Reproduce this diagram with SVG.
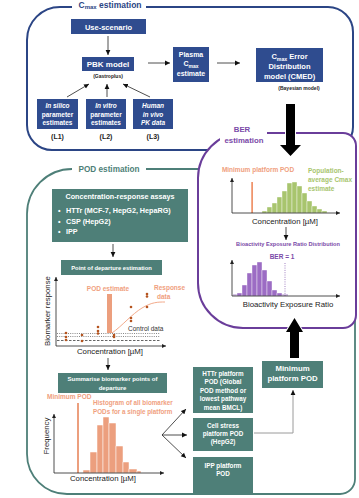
<svg xmlns="http://www.w3.org/2000/svg" width="359" height="498" viewBox="0 0 359 498">
<style>
text{font-family:"Liberation Sans",Arial,sans-serif}
.bt{fill:#fff;font-weight:bold;text-anchor:middle}
.blue{fill:#2f4c8f}
.teal{fill:#4e7f78}
.ax{stroke:#222;stroke-width:0.8;fill:none}
.axl{fill:#222;font-size:7.8px;text-anchor:middle}
.or{fill:#f0a07e;font-weight:bold}
.conn{stroke:#222;stroke-width:0.8;fill:none;marker-end:url(#ah)}
.gconn{stroke:#9a9a9a;stroke-width:1;fill:none;marker-end:url(#ah)}
.dk{fill:#222;font-weight:bold;text-anchor:middle}
.pt{fill:#b5541f}
</style>
<defs>
<marker id="ah" markerUnits="userSpaceOnUse" markerWidth="6" markerHeight="6" refX="5" refY="3" orient="auto"><path d="M0,0.6 L5,3 L0,5.4 Z" fill="#111"/></marker>
<marker id="axh" markerUnits="userSpaceOnUse" markerWidth="5" markerHeight="5" refX="4" refY="2.5" orient="auto"><path d="M0,0.5 L4,2.5 L0,4.5 Z" fill="#222"/></marker>
</defs>

<!-- section frames -->
<g id="cmax-frame">
<path d="M72,7 H60 A33 33 0 0 0 27,40 V125 A25 25 0 0 0 52,150 H330 A23 23 0 0 0 353,127 V32 A25 25 0 0 0 328,7 H146" fill="none" stroke="#2b4585" stroke-width="2"/>
<text x="110" y="7.5" text-anchor="middle" font-size="8.5" font-weight="bold" fill="#2b4585">C<tspan font-size="6" dy="1.8">max</tspan><tspan dy="-1.8"> estimation</tspan></text>
</g>
<g id="pod-frame">
<path d="M72,169 A45 45 0 0 0 27,214 V454 A40 40 0 0 0 67,494 H340 A15 15 0 0 0 355,479 V184 A15 15 0 0 0 340,169 H146" fill="none" stroke="#4e7f78" stroke-width="1.8"/>
<text x="109" y="172" text-anchor="middle" font-size="8.2" font-weight="bold" fill="#4e7f78">POD estimation</text>
</g>
<g id="ber-frame">
<path d="M243,133 H343 A13 13 0 0 1 356,146 V315 A13 13 0 0 1 343,328 H243 A45 45 0 0 1 198,283 V178 A45 45 0 0 1 243,133 Z" fill="#fff" stroke="#6a3d9a" stroke-width="2"/>
<rect x="220" y="119" width="47" height="27" fill="#fff"/>
<text x="242" y="132" text-anchor="middle" font-size="7.8" font-weight="bold" fill="#7a4aa8">BER</text>
<text x="244" y="143" text-anchor="middle" font-size="7.8" font-weight="bold" fill="#7a4aa8">estimation</text>
</g>

<!-- Cmax nodes -->
<g id="use-scenario"><rect x="71" y="19" width="75" height="15" class="blue"/><text x="108.5" y="29.5" class="bt" font-size="7.5">Use-scenario</text></g>
<g id="pbk"><rect x="82" y="57" width="52" height="14" class="blue"/><text x="108" y="67" class="bt" font-size="8">PBK model</text><text x="108" y="78" class="dk" font-size="5">(Gastroplus)</text></g>
<g id="plasma"><rect x="173" y="47" width="36" height="35" class="blue"/>
<text class="bt" font-size="7"><tspan x="191" y="57">Plasma</tspan><tspan x="191" y="66">C<tspan font-size="5" dy="1.5">max</tspan></tspan><tspan x="191" y="76">estimate</tspan></text></g>
<g id="cmed"><rect x="256" y="48" width="67" height="34" class="blue"/>
<text class="bt" font-size="7.5"><tspan x="289.5" y="59">C<tspan font-size="5.2" dy="1.5">max</tspan><tspan dy="-1.5"> Error</tspan></tspan><tspan x="289.5" y="69">Distribution</tspan><tspan x="289.5" y="79">model (CMED)</tspan></text>
<text x="299" y="90" class="dk" font-size="5">(Bayesian model)</text></g>
<g id="l1"><rect x="37" y="99" width="41" height="30" class="blue"/>
<text class="bt" font-size="6.5"><tspan x="57.5" y="108" font-style="italic">In silico</tspan><tspan x="57.5" y="116.5">parameter</tspan><tspan x="57.5" y="125">estimates</tspan></text>
<text x="57.5" y="139" class="dk" font-size="7">(L1)</text></g>
<g id="l2"><rect x="86" y="99" width="40" height="30" class="blue"/>
<text class="bt" font-size="6.5"><tspan x="106" y="108" font-style="italic">In vitro</tspan><tspan x="106" y="116.5">parameter</tspan><tspan x="106" y="125">estimates</tspan></text>
<text x="106" y="139" class="dk" font-size="7">(L2)</text></g>
<g id="l3"><rect x="133" y="99" width="40" height="30" class="blue"/>
<text class="bt" font-size="6.5" font-style="italic"><tspan x="153" y="108">Human</tspan><tspan x="153" y="116.5">in vivo</tspan><tspan x="153" y="125">PK data</tspan></text>
<text x="153" y="139" class="dk" font-size="7">(L3)</text></g>

<!-- BER charts -->
<g id="ber-chart1">
<text x="258" y="172" text-anchor="middle" font-size="6.5" class="or">Minimum platform POD</text>
<text font-size="6.5" font-weight="bold" fill="#a8c56e"><tspan x="308" y="173">Population-</tspan><tspan x="308" y="182">average Cmax</tspan><tspan x="308" y="191">estimate</tspan></text>
<rect x="251.3" y="182" width="1.6" height="31" fill="#ee8a5e"/>
<g fill="#a8c56e" stroke="#fff" stroke-width="0.4">
<rect x="262" y="211" width="5" height="2"/><rect x="267" y="207" width="5" height="6"/><rect x="272" y="203" width="5" height="10"/><rect x="277" y="197" width="5" height="16"/><rect x="282" y="191" width="5" height="22"/><rect x="287" y="183" width="5" height="30"/><rect x="292" y="182" width="5" height="31"/><rect x="297" y="186" width="5" height="27"/><rect x="302" y="193" width="5" height="20"/><rect x="307" y="201" width="5" height="12"/><rect x="312" y="206" width="5" height="7"/><rect x="317" y="209" width="5" height="4"/><rect x="322" y="211" width="5" height="2"/>
</g>
<path d="M232,213 V178" class="ax" marker-end="url(#axh)"/>
<path d="M232,213 H340" class="ax" marker-end="url(#axh)"/>
<text x="285" y="224" class="axl">Concentration [µM]</text>
</g>
<g id="ber-chart2">
<text x="288" y="246" text-anchor="middle" font-size="5.6" font-weight="bold" fill="#7a4aa8">Bioactivity Exposure Ratio Distribution</text>
<text x="282" y="259" text-anchor="middle" font-size="6.5" font-weight="bold" fill="#7a4aa8">BER = 1</text>
<rect x="233" y="294" width="55" height="2" fill="#d6c4e6"/>
<g fill="#9c6cc4" stroke="#fff" stroke-width="0.4">
<rect x="237" y="293" width="5" height="3"/><rect x="242" y="285" width="5" height="11"/><rect x="247" y="273" width="5" height="23"/><rect x="252" y="265" width="5" height="31"/><rect x="257" y="262" width="5" height="34"/><rect x="262" y="270" width="5" height="26"/><rect x="267" y="281" width="5" height="15"/><rect x="272" y="290" width="5" height="6"/><rect x="277" y="293" width="5" height="3"/>
</g>
<path d="M285,263 V296" stroke="#7a4aa8" stroke-width="0.7" stroke-dasharray="1,1.3"/>
<path d="M232,296 V260" class="ax" marker-end="url(#axh)"/>
<path d="M232,296 H340" class="ax" marker-end="url(#axh)"/>
<text x="288" y="307" class="axl" font-size="7.5">Bioactivity Exposure Ratio</text>
</g>

<!-- POD nodes -->
<g id="cr-assays"><rect x="52" y="189" width="136" height="53" class="teal"/>
<text x="120" y="199" class="bt" font-size="7.2">Concentration-response assays</text>
<text fill="#fff" font-weight="bold" font-size="7.2"><tspan x="58" y="213">•</tspan><tspan x="66" y="213">HTTr (MCF-7, HepG2, HepaRG)</tspan><tspan x="58" y="223.5">•</tspan><tspan x="66" y="223.5">CSP (HepG2)</tspan><tspan x="58" y="234">•</tspan><tspan x="66" y="234">IPP</tspan></text></g>
<g id="pod-est"><rect x="61" y="260" width="101" height="15" class="teal"/><text x="111.5" y="270" class="bt" font-size="5.8">Point of departure estimation</text></g>
<g id="pod-chart">
<text x="108" y="291" text-anchor="middle" font-size="6.5" class="or">POD estimate</text>
<text font-size="6.5" class="or"><tspan x="154" y="290">Response</tspan><tspan x="157" y="299">data</tspan></text>
<rect x="107" y="294" width="5" height="39" fill="#ec9f7e"/>
<path d="M112,333 C122,326 132,314 142,308 S158,302 165,302" fill="none" stroke="#f0a07e" stroke-width="0.9"/>
<path d="M57,333.5 H160 M57,336.5 H160" stroke="#555" stroke-width="0.7" stroke-dasharray="1,1.2"/>
<path d="M57,340.5 H160" stroke="#222" stroke-width="0.7" stroke-dasharray="2.5,1.5"/>
<text x="128" y="331" font-size="6.5" fill="#333">Control data</text>
<g class="pt"><circle cx="66" cy="333" r="1.3"/><circle cx="66" cy="337" r="1.3"/><circle cx="66" cy="340" r="1.3"/><circle cx="82" cy="335" r="1.3"/><circle cx="82" cy="341" r="1.3"/><circle cx="98" cy="327" r="1.3"/><circle cx="98" cy="331" r="1.3"/><circle cx="98" cy="333.5" r="1.3"/><circle cx="114" cy="335" r="1.3"/><circle cx="114" cy="337" r="1.3"/><circle cx="131" cy="307" r="1.3"/><circle cx="131" cy="318" r="1.3"/><circle cx="131" cy="321" r="1.3"/><circle cx="147" cy="294" r="1.3"/><circle cx="147" cy="296.5" r="1.3"/><circle cx="147" cy="307" r="1.3"/></g>
<path d="M56,346 V277" class="ax" marker-end="url(#axh)"/>
<path d="M56,346 H166" class="ax" marker-end="url(#axh)"/>
<text transform="translate(50,311) rotate(-90)" class="axl" font-size="7.5">Biomarker response</text>
<text x="110" y="354" class="axl" font-size="7.6">Concentration [µM]</text>
</g>
<g id="summarise"><rect x="58" y="373" width="109" height="20" class="teal"/>
<text class="bt" font-size="6"><tspan x="112.5" y="381">Summarise biomarker points of</tspan><tspan x="112.5" y="390">departure</tspan></text></g>
<g id="hist-chart">
<text x="47" y="399" font-size="6.5" class="or">Minimum POD</text>
<text font-size="6.3" class="or"><tspan x="93" y="405">Histogram of all biomarker</tspan><tspan x="93" y="414">PODs for a single platform</tspan></text>
<rect x="77" y="403" width="2" height="70" fill="#ec9f7e"/>
<g fill="#ec9f7e" stroke="#fff" stroke-width="0.5">
<rect x="83" y="470" width="7" height="3"/><rect x="90" y="452" width="7" height="21"/><rect x="97" y="425" width="6" height="48"/><rect x="103" y="417" width="6" height="56"/><rect x="109" y="423" width="7" height="50"/><rect x="116" y="446" width="7" height="27"/><rect x="123" y="462" width="6" height="11"/><rect x="129" y="469" width="8" height="4"/><rect x="137" y="471" width="4" height="2"/>
</g>
<path d="M54,473 V414" class="ax" marker-end="url(#axh)"/>
<path d="M54,473 H164" class="ax" marker-end="url(#axh)"/>
<text transform="translate(49,436) rotate(-90)" class="axl" font-size="7.2">Frequency</text>
<text x="103" y="481" class="axl" font-size="7.6">Concentration [µM]</text>
</g>
<g id="httr"><rect x="193" y="367" width="60" height="46" class="teal"/>
<text class="bt" font-size="6.3"><tspan x="223" y="375.5">HTTr platform</tspan><tspan x="223" y="384">POD (Global</tspan><tspan x="223" y="392.5">POD method or</tspan><tspan x="223" y="401">lowest pathway</tspan><tspan x="223" y="409.5">mean BMCL)</tspan></text></g>
<g id="cellstress"><rect x="193" y="418" width="60" height="33" class="teal"/>
<text class="bt" font-size="6.3"><tspan x="223" y="427.5">Cell stress</tspan><tspan x="223" y="435.5">platform POD</tspan><tspan x="223" y="443.5">(HepG2)</tspan></text></g>
<g id="ipp"><rect x="193" y="457" width="60" height="36" class="teal"/>
<text class="bt" font-size="6.3"><tspan x="223" y="467.5">IPP platform</tspan><tspan x="223" y="475.5">POD</tspan></text></g>
<g id="min-platform"><rect x="262" y="361" width="61" height="27" class="teal"/>
<text class="bt" font-size="7.8"><tspan x="292.5" y="371">Minimum</tspan><tspan x="292.5" y="381">platform POD</tspan></text></g>

<!-- connectors -->
<g id="connectors">
<path d="M108,36 V55" class="conn"/>
<path d="M148,63 H170" class="conn"/>
<path d="M217,63 H240" class="conn"/>
<path d="M67,97 L89,84" class="conn"/>
<path d="M107,97 V84" class="conn"/>
<path d="M150,97 L123,84" class="conn"/>
<path d="M286,227 V240" class="conn"/>
<path d="M113,244 V257" class="conn"/>
<path d="M108,358 V370" class="conn"/>
<path d="M162,435 L186,409" class="conn"/>
<path d="M162,435 H187" class="conn"/>
<path d="M162,435 L186,458" class="conn"/>
<path d="M254,433 H293 V390" class="gconn"/>
<path d="M286,104 H295 V145 H301 L290.5,156 L280,145 H286 Z" fill="#000" stroke="#fff" stroke-width="2" paint-order="stroke"/>
<path d="M290,358 V332 H286 L294.5,318 L303,332 H299 V358 Z" fill="#000" stroke="#fff" stroke-width="2" paint-order="stroke"/>
</g>
</svg>
